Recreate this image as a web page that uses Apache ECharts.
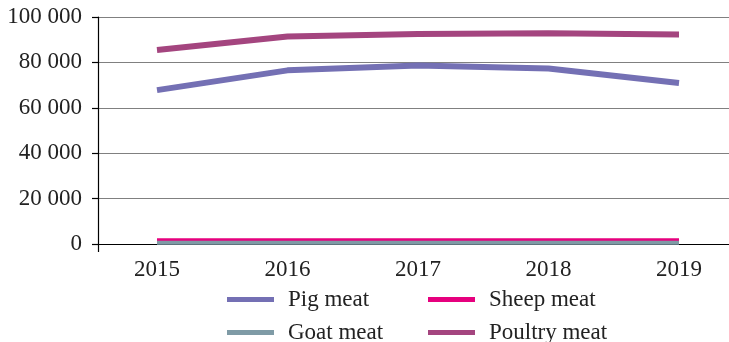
<!DOCTYPE html>
<html>
<head>
<meta charset="utf-8">
<script src="https://cdn.jsdelivr.net/npm/echarts@6/dist/echarts.min.js"></script>
<style>html,body{margin:0;padding:0;background:#fff}#c{width:729px;height:342px}</style>
</head>
<body>
<div id="c"></div>
<script>
var years = [2015, 2016, 2017, 2018, 2019];
var pigMeat = [67800, 76500, 78600, 77300, 70900];
var sheepMeat = [1700, 1700, 1700, 1700, 1700];
var goatMeat = [600, 600, 600, 600, 600];
var poultryMeat = [85500, 91400, 92500, 92800, 92300];
var yTicks = [0, 20000, 40000, 60000, 80000, 100000];

var FONT = '"Liberation Serif", "DejaVu Serif", serif';
var X_MIN = 2014.548, X_MAX = 2019.383;
function pairs(vals){ return years.map(function(y,i){ return [y, vals[i]]; }); }
function fmt(v){ return String(v).replace(/\B(?=(\d{3})+(?!\d))/g, ' '); }

var chart = echarts.init(document.getElementById('c'));
var seriesDefs = [
  {name:'Pig meat', data:pigMeat, color:'#7470B4', w:6},
  {name:'Sheep meat', data:sheepMeat, color:'#E6007E', w:4},
  {name:'Goat meat', data:goatMeat, color:'#7F9BA6', w:4},
  {name:'Poultry meat', data:poultryMeat, color:'#A4457F', w:6}
];
var legendText = {fontFamily:FONT, fontSize:23, color:'#222', lineHeight:22, padding:[0,0,0,9]};
chart.setOption({
  animation:false,
  backgroundColor:'#fff',
  grid:{left:98, right:0, top:17, bottom:98, containLabel:false},
  xAxis:{
    type:'value', min:X_MIN, max:X_MAX,
    axisLine:{show:true, onZero:false, lineStyle:{color:'#000', width:1.2}},
    axisTick:{show:true, customValues:[X_MIN], length:8, lineStyle:{color:'#000', width:1.2}},
    splitLine:{show:false},
    axisLabel:{customValues:years, formatter:function(v){return String(v);}, color:'#222', fontFamily:FONT, fontSize:23, margin:14}
  },
  yAxis:{
    type:'value', min:0, max:100000, interval:20000,
    axisLine:{show:true, lineStyle:{color:'#000', width:1.2}},
    axisTick:{show:true, inside:false, length:6, lineStyle:{color:'#000', width:1.2}},
    splitLine:{show:true, lineStyle:{color:'#808080', width:1.2}},
    axisLabel:{formatter:function(v){return fmt(v);}, color:'#222', fontFamily:FONT, fontSize:23, margin:16}
  },
  legend:[
    {orient:'vertical', left:227, top:288, height:120, padding:0, itemWidth:47, itemGap:10, itemHeight:5, icon:'rect',
     data:['Pig meat','Goat meat'], textStyle:legendText},
    {orient:'vertical', left:428, top:288, height:120, padding:0, itemWidth:47, itemGap:10, itemHeight:5, icon:'rect',
     data:['Sheep meat','Poultry meat'], textStyle:legendText}
  ],
  series: seriesDefs.map(function(s){
    return {name:s.name, type:'line', data:pairs(s.data), showSymbol:false, symbol:'none',
      color:s.color, lineStyle:{color:s.color, width:s.w, cap:'butt'}};
  })
});
</script>
</body>
</html>
